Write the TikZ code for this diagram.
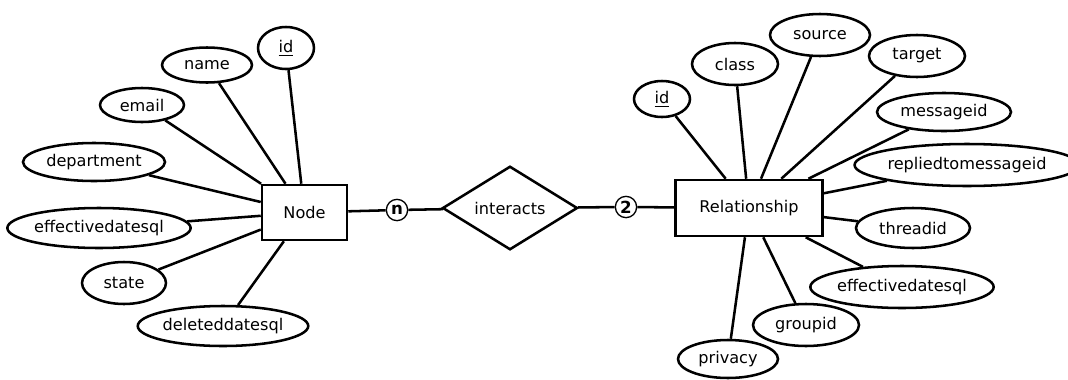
\documentclass[tikz,border=0pt]{standalone}
\usepackage{fontspec}
\setmainfont{DejaVu Sans}
\usetikzlibrary{shapes.geometric}
\begin{document}
\begin{tikzpicture}[x=0.75pt,y=-0.75pt,
  every node/.style={font=\fontsize{12.1}{14}\selectfont},
  sz/.style 2 args={minimum width=#1*0.75pt, minimum height=#2*0.75pt},
  attr/.style={ellipse,draw,line width=1.9pt,inner sep=0pt,fill=white},
  entity/.style={rectangle,draw,line width=1.9pt,inner sep=0pt,fill=white},
  rel/.style={diamond,draw,line width=1.9pt,inner sep=0pt,fill=white},
  card/.style={circle,draw,line width=1pt,fill=white,inner sep=0pt,
    minimum size=16pt,font=\bfseries\fontsize{12.5}{13}\selectfont},
  link/.style={line width=1.9pt}]
\useasboundingbox (0,0) rectangle (1068,379);

% entities and relationship
\node[entity,sz={85}{55}] (node) at (304.5,212.5) {Node};
\node[entity,sz={147}{56}] (relship) at (749,208) {Relationship};
\node[rel,sz={135}{82}] (interacts) at (510,208) {interacts};

% attributes of Node
\node[attr,sz={56}{42}]  (nid)     at (286,48)  {\underline{id}};
\node[attr,sz={90}{35}]  (nname)   at (207,65)  {name};
\node[attr,sz={84}{34}]  (nemail)  at (142,105) {email};
\node[attr,sz={142}{38}] (ndept)   at (94,162)  {department};
\node[attr,sz={178}{40}] (neff)    at (99,228)  {effectivedatesql};
\node[attr,sz={84}{42}]  (nstate)  at (124,283) {state};
\node[attr,sz={170}{40}] (ndel)    at (223,326) {deleteddatesql};

% attributes of Relationship
\node[attr,sz={56}{36}]  (rid)     at (662,99)  {\underline{id}};
\node[attr,sz={86}{42}]  (rclass)  at (735,64)  {class};
\node[attr,sz={100}{42}] (rsource) at (820,35)  {source};
\node[attr,sz={96}{42}]  (rtarget) at (917,56)  {target};
\node[attr,sz={134}{38}] (rmsg)    at (944,112) {messageid};
\node[attr,sz={198}{42}] (rreply)  at (967,165) {repliedtomessageid};
\node[attr,sz={114}{40}] (rthread) at (913,228) {threadid};
\node[attr,sz={180}{42}] (reff)    at (902,287) {effectivedatesql};
\node[attr,sz={106}{42}] (rgroup)  at (806,325) {groupid};
\node[attr,sz={100}{38}] (rpriv)   at (728,359) {privacy};

% cardinalities
\node[card] (cn) at (397,210) {n};
\node[card] (c2) at (626,207) {2};

% connectors
\foreach \a in {nid,nname,nemail,ndept,neff,nstate,ndel}
  \draw[link] (\a) -- (node);
\foreach \a in {rid,rclass,rsource,rtarget,rmsg,rreply,rthread,reff,rgroup,rpriv}
  \draw[link] (\a) -- (relship);
\draw[link] (node) -- (cn);
\draw[link] (cn) -- (interacts);
\draw[link] (interacts) -- (c2);
\draw[link] (c2) -- (relship);
\end{tikzpicture}
\end{document}
